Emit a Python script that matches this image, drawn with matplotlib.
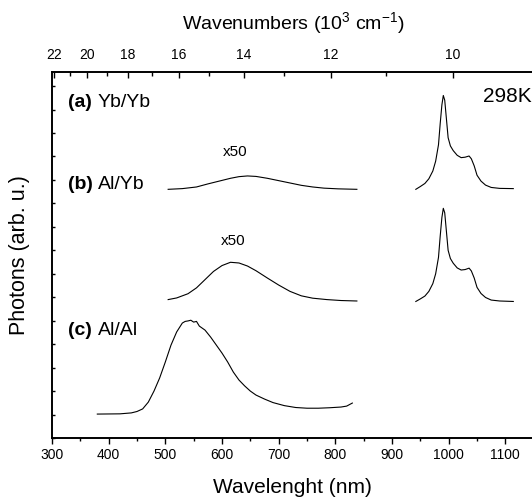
import matplotlib
matplotlib.use("Agg")
import matplotlib.pyplot as plt
from matplotlib.ticker import MultipleLocator, NullFormatter

plt.rcParams['font.family'] = ['Liberation Sans', 'DejaVu Sans']
plt.rcParams['mathtext.fontset'] = 'custom'
plt.rcParams['mathtext.rm'] = 'Liberation Sans'
plt.rcParams['axes.unicode_minus'] = False

# (c) Al/Al visible emission
c_vis_nm = [380, 420, 440, 450, 460, 470, 480, 490, 500, 510, 520, 530, 535, 540,
            545, 550, 555, 560, 570, 580, 590, 600, 610, 620, 630, 640, 650, 660,
            675, 690, 710, 730, 750, 770, 790, 810, 820, 830]
c_vis_y = [1.02, 1.03, 1.07, 1.13, 1.24, 1.53, 2.00, 2.56, 3.24, 3.96, 4.52, 4.90, 4.97, 4.99,
           5.02, 4.94, 4.97, 4.77, 4.60, 4.30, 3.96, 3.62, 3.24, 2.81, 2.47, 2.22, 2.00, 1.83,
           1.66, 1.51, 1.38, 1.30, 1.27, 1.27, 1.29, 1.32, 1.36, 1.49]

# (a) Yb/Yb visible band (x50)
a_vis_nm = [505, 530, 555, 575, 595, 615, 630, 645, 660, 680, 700, 720, 740, 760, 780, 805, 838]
a_vis_y = [10.60, 10.63, 10.70, 10.83, 10.95, 11.07, 11.14, 11.17, 11.15, 11.07, 10.97,
           10.87, 10.77, 10.70, 10.65, 10.62, 10.60]

# (b) Al/Yb visible band (x50)
b_vis_nm = [505, 520, 540, 555, 570, 585, 600, 615, 630, 645, 660, 680, 700, 720, 740,
            760, 785, 810, 838]
b_vis_y = [5.90, 5.97, 6.15, 6.40, 6.75, 7.10, 7.35, 7.49, 7.46, 7.33, 7.13, 6.82, 6.52,
           6.25, 6.06, 5.96, 5.90, 5.86, 5.84]

# Yb3+ near-infrared emission
nir_nm = [942, 950, 958, 965, 972, 977, 982, 985, 988, 990.5, 993, 996, 999, 1003, 1008,
          1015, 1022, 1029, 1036, 1040, 1045, 1050, 1057, 1065, 1075, 1090, 1114]
a_nir_y = [10.60, 10.72, 10.85, 11.05, 11.38, 11.80, 12.50, 13.40, 14.20, 14.60, 14.40,
           13.60, 12.80, 12.45, 12.25, 12.05, 11.95, 11.97, 12.02, 11.90, 11.60, 11.20,
           10.95, 10.78, 10.68, 10.64, 10.63]
b_nir_y = [5.82, 5.93, 6.05, 6.25, 6.58, 7.00, 7.70, 8.60, 9.40, 9.79, 9.60,
           8.80, 8.00, 7.65, 7.45, 7.25, 7.16, 7.18, 7.24, 7.12, 6.82, 6.42,
           6.16, 5.99, 5.88, 5.84, 5.82]

# top-axis wavenumber ticks (10^3 cm^-1)
wn_major = [22, 20, 18, 16, 14, 12, 10]
wn_minor = [21, 19, 17, 15, 13, 11]


def wn_to_axis(k):
    # position of a wavenumber tick along the wavelength axis
    return 12890.0 / k - 282.0


fig = plt.figure(figsize=(5.32, 4.97), dpi=100)
ax = fig.add_axes([0.0977, 0.1187, 0.9055, 0.7364])

lw = 0.8
for xs, ys in [(c_vis_nm, c_vis_y), (a_vis_nm, a_vis_y), (b_vis_nm, b_vis_y),
               (nir_nm, a_nir_y), (nir_nm, b_nir_y)]:
    ax.plot(xs, ys, color='black', lw=lw)

ax.set_xlim(300, 1150)
ax.set_ylim(0, 15.6)

for s in ax.spines.values():
    s.set_linewidth(1.2)
ax.spines['right'].set_visible(False)

ax.set_xticks(range(300, 1101, 100))
ax.set_xticklabels([str(v) for v in range(300, 1101, 100)])
ax.xaxis.set_minor_locator(MultipleLocator(50))
ax.tick_params(axis='x', which='major', direction='out', length=4, width=1.0,
               labelsize=10, pad=3, top=False)
ax.tick_params(axis='x', which='minor', direction='out', length=2.5, width=1.0, top=False)

ax.yaxis.set_major_locator(MultipleLocator(1))
ax.yaxis.set_major_formatter(NullFormatter())
ax.tick_params(axis='y', which='major', direction='in', length=2.5, width=1.0, right=False)

ax.set_xlabel('Wavelenght (nm)', fontsize=15, labelpad=12)
ax.set_ylabel('Photons (arb. u.)', fontsize=15.5, labelpad=12)

# top axis in wavenumbers
ax2 = ax.twiny()
ax2.set_xlim(ax.get_xlim())
ax2.spines['right'].set_visible(False)
for s in ax2.spines.values():
    s.set_linewidth(1.2)
ax2.set_xticks([wn_to_axis(k) for k in wn_major])
ax2.set_xticklabels([str(k) for k in wn_major])
ax2.set_xticks([wn_to_axis(k) for k in wn_minor], minor=True)
ax2.tick_params(axis='x', which='major', direction='in', length=4.5, width=1.0,
                labelsize=10, pad=7)
ax2.tick_params(axis='x', which='minor', direction='in', length=3, width=1.0)
ax2.set_xlabel(r'Wavenumbers (10$^\mathregular{3}$ cm$^\mathregular{-1}$)', fontsize=14,
               labelpad=13)


# panel annotations
def panel(y, tag, name):
    ax.text(328, y, tag, fontsize=14, fontweight='bold', va='center', ha='left')
    ax.text(381, y, name, fontsize=14, va='center', ha='left')


panel(14.3, '(a)', 'Yb/Yb')
panel(10.8, '(b)', 'Al/Yb')
panel(4.6, '(c)', 'Al/Al')

ax.text(623, 12.2, 'x50', fontsize=11, ha='center', va='center')
ax.text(619, 8.4, 'x50', fontsize=11, ha='center', va='center')
ax.text(1147, 14.55, '298K', fontsize=15, ha='right', va='center')

fig.savefig('out.png', dpi=100)
